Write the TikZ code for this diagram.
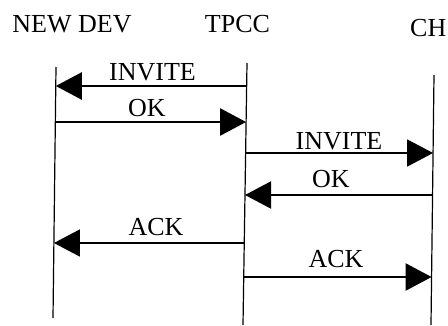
\documentclass[tikz,border=0pt]{standalone}
\usepackage{fontspec}
\setmainfont{Liberation Serif}
\usetikzlibrary{arrows.meta}
\begin{document}
\begin{tikzpicture}[x=1pt,y=-1pt,
  lifeline/.style={line width=1.2pt},
  msg/.style={line width=#1,-{Triangle[length=26pt,width=27pt]}},
  msg/.default=2.5pt,
  lbl/.style={font=\fontsize{26}{30}\selectfont,anchor=base,inner sep=0pt}]
\useasboundingbox (0,0) rectangle (448,325);

% participants
\node[lbl] (hdev)  at (72,32)   {NEW DEV};
\node[lbl] (htpcc) at (237.5,32) {TPCC};
\node[lbl,anchor=base west] (hch) at (410,36) {CH};

% lifelines
\coordinate (devT) at (56,67);   \coordinate (devB) at (53,318);
\coordinate (tpT)  at (247,63);  \coordinate (tpB)  at (243,325);
\coordinate (chT)  at (434,75);  \coordinate (chB)  at (431,325);
\draw[lifeline] (devT) -- (devB);
\draw[lifeline] (tpT) -- (tpB);
\draw[lifeline] (chT) -- (chB);

% message end points on the lifelines
\coordinate (d1) at (55.8,86);  \coordinate (t1) at (246.6,86);
\coordinate (d2) at (55.3,122); \coordinate (t2) at (246.1,122);
\coordinate (t3) at (245.6,153);\coordinate (c3) at (433.1,153);
\coordinate (t4) at (245,195);  \coordinate (c4) at (432.6,195);
\coordinate (d5) at (53.9,243); \coordinate (t5) at (244.3,243);
\coordinate (t6) at (243.7,277);\coordinate (c6) at (431.6,277);

% messages
\draw[msg] (t1) -- (d1);
\node[lbl] (l1) at (152.5,80) {INVITE};
\draw[msg] (d2) -- (t2);
\node[lbl] (l2) at (147,116) {OK};
\draw[msg=1.5pt] (t3) -- (c3);
\node[lbl] (l3) at (339,149) {INVITE};
\draw[msg=2pt] (c4) -- (t4);
\node[lbl] (l4) at (331,187) {OK};
\draw[msg=1.5pt] (t5) -- (d5);
\node[lbl] (l5) at (156,235) {ACK};
\draw[msg] (t6) -- (c6);
\node[lbl] (l6) at (336,267) {ACK};
\end{tikzpicture}
\end{document}
